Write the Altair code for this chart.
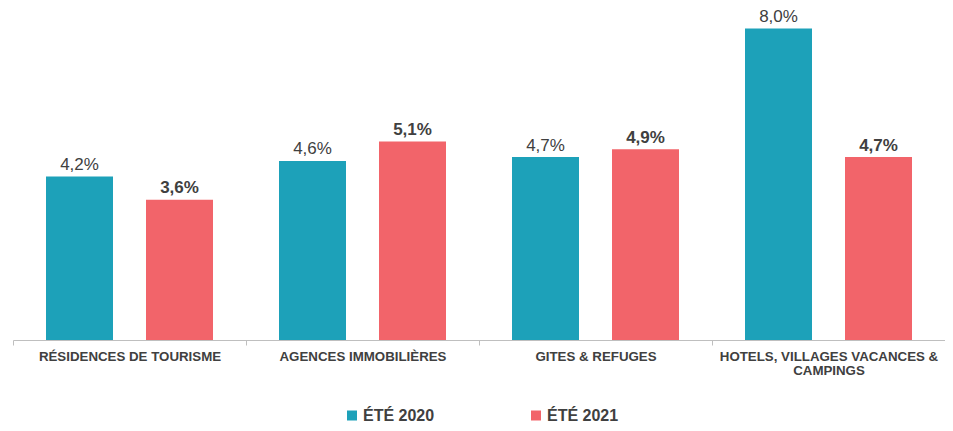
import altair as alt
import pandas as pd

categories = ["RÉSIDENCES DE TOURISME", "AGENCES IMMOBILIÈRES", "GITES & REFUGES",
              "HOTELS, VILLAGES VACANCES & CAMPINGS"]
series = ["ÉTÉ 2020", "ÉTÉ 2021"]
values_2020 = [4.2, 4.6, 4.7, 8.0]
values_2021 = [3.6, 5.1, 4.9, 4.7]
colors = ["#1DA1B9", "#F2646A"]

rows = []
for c, v in zip(categories, values_2020):
    rows.append({"cat": c, "serie": series[0], "v": v})
for c, v in zip(categories, values_2021):
    rows.append({"cat": c, "serie": series[1], "v": v})
df = pd.DataFrame(rows)
df["label"] = df["v"].map(lambda x: f"{x:.1f}".replace(".", ",") + "%")

FONT = "Liberation Sans"
TXT = "#404040"

x = alt.X("cat:N", sort=categories, title=None,
          scale=alt.Scale(paddingInner=0, paddingOuter=0),
          axis=alt.Axis(labelAngle=0, labelFont=FONT, labelFontSize=13.3, labelFontWeight="bold",
                        labelColor=TXT, labelLimit=240, labelPadding=4, labelLineHeight=14.5,
                        tickBand="extent", tickSize=5, tickColor="#BFBFBF", domainColor="#BFBFBF",
                        labelExpr="datum.value == 'HOTELS, VILLAGES VACANCES & CAMPINGS' ? ['HOTELS, VILLAGES VACANCES &', 'CAMPINGS'] : datum.label"))
xo = alt.XOffset("serie:N", sort=series, scale=alt.Scale(paddingInner=0.33, paddingOuter=0.33))
y = alt.Y("v:Q", scale=alt.Scale(domain=[0, 8.4], nice=False, zero=True), axis=None)

bars = alt.Chart(df).mark_bar().encode(
    x=x, xOffset=xo, y=y,
    color=alt.Color("serie:N", sort=series, scale=alt.Scale(domain=series, range=colors),
                    legend=alt.Legend(title=None, orient="none", direction="horizontal",
                                      legendX=331, legendY=394.5, padding=0,
                                      symbolType="square", symbolSize=100, symbolStrokeWidth=0,
                                      labelFont=FONT, labelFontSize=16, labelFontWeight="bold",
                                      labelColor=TXT, labelOffset=3, columnPadding=93)),
)

t20 = alt.Chart(df).transform_filter(alt.datum.serie == series[0]).mark_text(
    baseline="bottom", dy=-2.5, font=FONT, fontSize=17, color=TXT
).encode(x=x, xOffset=xo, y=y, text="label:N")

t21 = alt.Chart(df).transform_filter(alt.datum.serie == series[1]).mark_text(
    baseline="bottom", dy=-2.5, font=FONT, fontSize=17, fontWeight="bold", color=TXT
).encode(x=x, xOffset=xo, y=y, text="label:N")

chart = alt.layer(bars, t20, t21).properties(
    width=932, height=327,
    autosize=alt.AutoSizeParams(type="none"),
    padding={"left": 5, "top": 5, "right": 0, "bottom": 83},
).configure_view(stroke=None)

chart.save("out.html", embed_options={"renderer": "svg", "actions": False})
